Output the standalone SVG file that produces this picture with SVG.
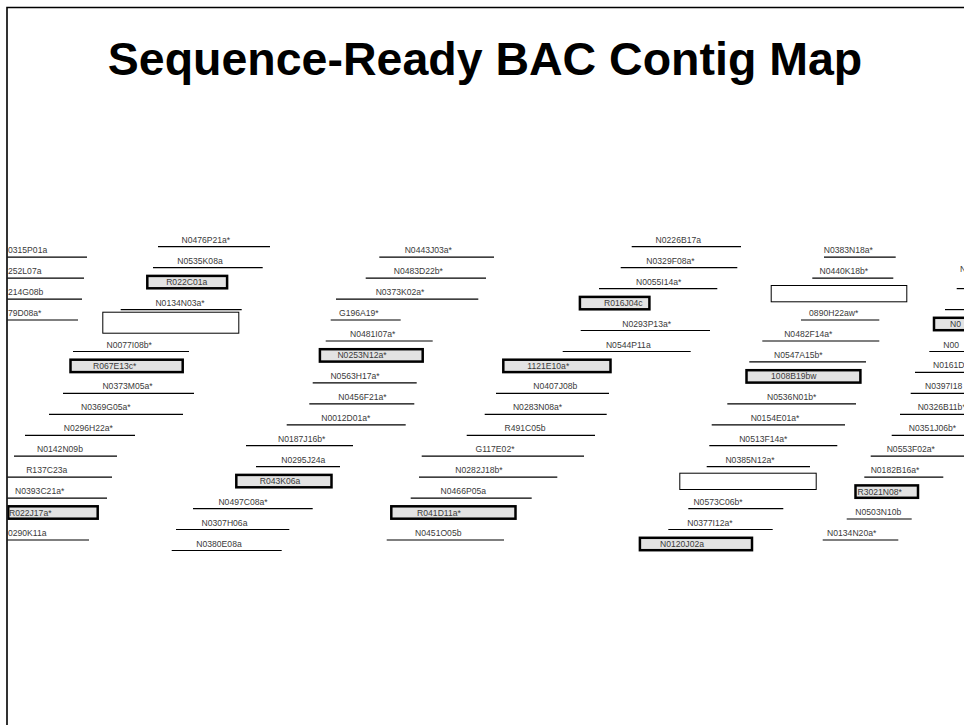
<svg xmlns="http://www.w3.org/2000/svg" width="964" height="725" viewBox="0 0 964 725">
  <defs>
    <clipPath id="frameClip">
      <rect x="7.5" y="8" width="960" height="720"/>
    </clipPath>
  </defs>
  <style>
    .ln { stroke: #000; stroke-width: 1.2; fill: none; }
    .bx { fill: #e3e3e3; stroke: #000; stroke-width: 2.5; }
    .ob { fill: #fff; stroke: #000; stroke-width: 1; }
    .t { font-family: "Liberation Sans", Arial, sans-serif; font-size: 8.6px; fill: #3a3a3a; text-anchor: middle; }
    .s { text-anchor: start; }
    .title { font-family: "Liberation Sans", Arial, sans-serif; font-size: 46.5px; font-weight: bold; fill: #000; text-anchor: middle; }
    .frame { stroke: #000; stroke-width: 1.6; fill: none; }
  </style>
  <rect width="964" height="725" fill="#fff"/>

  <!-- page frame -->
  <path class="frame" d="M7,725 V7.5 H964"/>

  <text class="title" x="485" y="75">Sequence-Ready BAC Contig Map</text>

  <g clip-path="url(#frameClip)">
    <!-- column 1 (cut by the frame) -->
    <g id="c0315P01a"><text class="t s" x="8" y="253.2">0315P01a</text><line class="ln" x1="0" y1="257.2" x2="87" y2="257.2"/></g>
    <g id="c252L07a"><text class="t s" x="8" y="274.1">252L07a</text><line class="ln" x1="0" y1="278.1" x2="84" y2="278.1"/></g>
    <g id="c214G08b"><text class="t s" x="8" y="295.1">214G08b</text><line class="ln" x1="0" y1="299.1" x2="82" y2="299.1"/></g>
    <g id="c79D08a"><text class="t s" x="8" y="316">79D08a*</text><line class="ln" x1="0" y1="320" x2="78" y2="320"/></g>

    <!-- column 2 -->
    <g id="N0476P21a"><text class="t" x="205.8" y="242.7">N0476P21a*</text><line class="ln" x1="158" y1="246.7" x2="270" y2="246.7"/></g>
    <g id="N0535K08a"><text class="t" x="200" y="263.7">N0535K08a</text><line class="ln" x1="153" y1="267.7" x2="262.7" y2="267.7"/></g>
    <g id="R022C01a"><rect class="bx" x="147.3" y="275.9" width="79.8" height="12.4"/><text class="t" x="186.7" y="285.1">R022C01a</text></g>
    <g id="N0134N03a"><text class="t" x="180" y="305.6">N0134N03a*</text><line class="ln" x1="120.7" y1="309.6" x2="241.7" y2="309.6"/></g>
    <g id="gap1"><rect class="ob" x="102.8" y="312.2" width="136" height="21"/></g>
    <g id="N0077I08b"><text class="t" x="129.2" y="347.5">N0077I08b*</text><line class="ln" x1="73" y1="351.5" x2="189" y2="351.5"/></g>
    <g id="R067E13c"><rect class="bx" x="70.5" y="359.7" width="112.2" height="12.4"/><text class="t" x="114.7" y="368.9">R067E13c*</text></g>
    <g id="N0373M05a"><text class="t" x="127.5" y="389.4">N0373M05a*</text><line class="ln" x1="63" y1="393.4" x2="194" y2="393.4"/></g>
    <g id="N0369G05a"><text class="t" x="105.8" y="410.3">N0369G05a*</text><line class="ln" x1="49" y1="414.3" x2="183" y2="414.3"/></g>
    <g id="N0296H22a"><text class="t" x="88.3" y="431.3">N0296H22a*</text><line class="ln" x1="25" y1="435.3" x2="135" y2="435.3"/></g>
    <g id="N0142N09b"><text class="t" x="60" y="452.2">N0142N09b</text><line class="ln" x1="14" y1="456.2" x2="117" y2="456.2"/></g>
    <g id="R137C23a"><text class="t" x="46.7" y="473.2">R137C23a</text><line class="ln" x1="0" y1="477.2" x2="112" y2="477.2"/></g>
    <g id="N0393C21a"><text class="t" x="39.7" y="494.1">N0393C21a*</text><line class="ln" x1="0" y1="498.1" x2="107" y2="498.1"/></g>
    <g id="R022J17a"><rect class="bx" x="8.2" y="506.3" width="89.5" height="12.4"/><text class="t s" x="9" y="515.5">R022J17a*</text></g>
    <g id="c0290K11a"><text class="t s" x="8" y="536">0290K11a</text><line class="ln" x1="0" y1="540" x2="89" y2="540"/></g>

    <!-- column 3 -->
    <g id="N0443J03a"><text class="t" x="428.3" y="253.2">N0443J03a*</text><line class="ln" x1="379.3" y1="257.2" x2="494" y2="257.2"/></g>
    <g id="N0483D22b"><text class="t" x="418.3" y="274.1">N0483D22b*</text><line class="ln" x1="365.7" y1="278.1" x2="486" y2="278.1"/></g>
    <g id="N0373K02a"><text class="t" x="400" y="295.1">N0373K02a*</text><line class="ln" x1="336" y1="299.1" x2="478.3" y2="299.1"/></g>
    <g id="G196A19"><text class="t" x="358.8" y="316">G196A19*</text><line class="ln" x1="330.7" y1="320" x2="400.7" y2="320"/></g>
    <g id="N0481I07a"><text class="t" x="372.7" y="337">N0481I07a*</text><line class="ln" x1="325.7" y1="341" x2="432.7" y2="341"/></g>
    <g id="N0253N12a"><rect class="bx" x="319.9" y="349.2" width="102.8" height="12.4"/><text class="t" x="362" y="358.4">N0253N12a*</text></g>
    <g id="N0563H17a"><text class="t" x="355" y="378.9">N0563H17a*</text><line class="ln" x1="312.7" y1="382.9" x2="416.7" y2="382.9"/></g>
    <g id="N0456F21a"><text class="t" x="362.5" y="399.8">N0456F21a*</text><line class="ln" x1="309.3" y1="403.8" x2="414.3" y2="403.8"/></g>
    <g id="N0012D01a"><text class="t" x="345.8" y="420.8">N0012D01a*</text><line class="ln" x1="286.7" y1="424.8" x2="405.7" y2="424.8"/></g>
    <g id="N0187J16b"><text class="t" x="301.7" y="441.7">N0187J16b*</text><line class="ln" x1="246" y1="445.7" x2="353" y2="445.7"/></g>
    <g id="N0295J24a"><text class="t" x="303.3" y="462.7">N0295J24a</text><line class="ln" x1="256" y1="466.7" x2="340" y2="466.7"/></g>
    <g id="R043K06a"><rect class="bx" x="236.3" y="474.9" width="95.2" height="12.4"/><text class="t" x="280" y="484.1">R043K06a</text></g>
    <g id="N0497C08a"><text class="t" x="243" y="504.6">N0497C08a*</text><line class="ln" x1="193" y1="508.6" x2="312.7" y2="508.6"/></g>
    <g id="N0307H06a"><text class="t" x="224.5" y="525.5">N0307H06a</text><line class="ln" x1="176" y1="529.5" x2="289.3" y2="529.5"/></g>
    <g id="N0380E08a"><text class="t" x="219" y="546.5">N0380E08a</text><line class="ln" x1="171.7" y1="550.5" x2="281.7" y2="550.5"/></g>

    <!-- column 4 -->
    <g id="N0226B17a"><text class="t" x="678.3" y="242.7">N0226B17a</text><line class="ln" x1="631.7" y1="246.7" x2="741" y2="246.7"/></g>
    <g id="N0329F08a"><text class="t" x="670.5" y="263.7">N0329F08a*</text><line class="ln" x1="620.7" y1="267.7" x2="737.3" y2="267.7"/></g>
    <g id="N0055I14a"><text class="t" x="658.7" y="284.6">N0055I14a*</text><line class="ln" x1="599" y1="288.6" x2="717.3" y2="288.6"/></g>
    <g id="R016J04c"><rect class="bx" x="579.9" y="296.9" width="69.5" height="12.4"/><text class="t" x="623.3" y="306.1">R016J04c</text></g>
    <g id="N0293P13a"><text class="t" x="646.7" y="326.5">N0293P13a*</text><line class="ln" x1="580.7" y1="330.5" x2="710" y2="330.5"/></g>
    <g id="N0544P11a"><text class="t" x="628.3" y="347.5">N0544P11a</text><line class="ln" x1="562.7" y1="351.5" x2="690.7" y2="351.5"/></g>
    <g id="c1121E10a"><rect class="bx" x="503.3" y="359.7" width="107.2" height="12.4"/><text class="t" x="548.3" y="368.9">1121E10a*</text></g>
    <g id="N0407J08b"><text class="t" x="555.3" y="389.4">N0407J08b</text><line class="ln" x1="496" y1="393.4" x2="609" y2="393.4"/></g>
    <g id="N0283N08a"><text class="t" x="537.5" y="410.3">N0283N08a*</text><line class="ln" x1="484.7" y1="414.3" x2="606.7" y2="414.3"/></g>
    <g id="R491C05b"><text class="t" x="525" y="431.3">R491C05b</text><line class="ln" x1="466.7" y1="435.3" x2="595" y2="435.3"/></g>
    <g id="G117E02"><text class="t" x="495" y="452.2">G117E02*</text><line class="ln" x1="421.7" y1="456.2" x2="584" y2="456.2"/></g>
    <g id="N0282J18b"><text class="t" x="479" y="473.2">N0282J18b*</text><line class="ln" x1="419" y1="477.2" x2="557.3" y2="477.2"/></g>
    <g id="N0466P05a"><text class="t" x="463.3" y="494.1">N0466P05a</text><line class="ln" x1="410.7" y1="498.1" x2="531.7" y2="498.1"/></g>
    <g id="R041D11a"><rect class="bx" x="391.3" y="506.3" width="124.2" height="12.4"/><text class="t" x="439" y="515.5">R041D11a*</text></g>
    <g id="N0451O05b"><text class="t" x="438.3" y="536">N0451O05b</text><line class="ln" x1="386.7" y1="540" x2="504" y2="540"/></g>

    <!-- column 5 -->
    <g id="N0383N18a"><text class="t" x="848.3" y="253.2">N0383N18a*</text><line class="ln" x1="824" y1="257.2" x2="895.7" y2="257.2"/></g>
    <g id="N0440K18b"><text class="t" x="843.8" y="274.1">N0440K18b*</text><line class="ln" x1="812.3" y1="278.1" x2="893.3" y2="278.1"/></g>
    <g id="gap2"><rect class="ob" x="771.2" y="285.5" width="135.6" height="16.3"/></g>
    <g id="c0890H22aw"><text class="t" x="833.7" y="316">0890H22aw*</text><line class="ln" x1="801" y1="320" x2="879.3" y2="320"/></g>
    <g id="N0482F14a"><text class="t" x="808.3" y="337">N0482F14a*</text><line class="ln" x1="762.3" y1="341" x2="879.3" y2="341"/></g>
    <g id="N0547A15b"><text class="t" x="798.3" y="357.9">N0547A15b*</text><line class="ln" x1="749.3" y1="361.9" x2="866" y2="361.9"/></g>
    <g id="c1008B19bw"><rect class="bx" x="746.5" y="370.2" width="113.9" height="12.4"/><text class="t" x="793.8" y="379.4">1008B19bw</text></g>
    <g id="N0536N01b"><text class="t" x="791.7" y="399.8">N0536N01b*</text><line class="ln" x1="727.3" y1="403.8" x2="856" y2="403.8"/></g>
    <g id="N0154E01a"><text class="t" x="775" y="420.8">N0154E01a*</text><line class="ln" x1="711.7" y1="424.8" x2="845" y2="424.8"/></g>
    <g id="N0513F14a"><text class="t" x="763.3" y="441.7">N0513F14a*</text><line class="ln" x1="709.3" y1="445.7" x2="837.3" y2="445.7"/></g>
    <g id="N0385N12a"><text class="t" x="750" y="462.7">N0385N12a*</text><line class="ln" x1="706.7" y1="466.7" x2="810" y2="466.7"/></g>
    <g id="gap3"><rect class="ob" x="679.8" y="473.2" width="136.4" height="16.3"/></g>
    <g id="N0573C06b"><text class="t" x="718" y="504.6">N0573C06b*</text><line class="ln" x1="688.3" y1="508.6" x2="783.3" y2="508.6"/></g>
    <g id="N0377I12a"><text class="t" x="710" y="525.5">N0377I12a*</text><line class="ln" x1="668.3" y1="529.5" x2="772.7" y2="529.5"/></g>
    <g id="N0120J02a"><rect class="bx" x="639.9" y="537.8" width="112.1" height="12.4"/><text class="t" x="682" y="547">N0120J02a</text></g>

    <!-- column 6 (cut by the right edge) -->
    <g id="r3"><text class="t s" x="960" y="272">N</text></g>
    <g id="r4"><line class="ln" x1="956.7" y1="288.6" x2="970" y2="288.6"/></g>
    <g id="r6"><line class="ln" x1="945" y1="309.6" x2="970" y2="309.6"/></g>
    <g id="r8"><rect class="bx" x="934" y="317.8" width="40" height="12.4"/><text class="t s" x="950" y="327">N0</text></g>
    <g id="r10"><text class="t s" x="943.3" y="347.5">N00</text><line class="ln" x1="929.3" y1="351.5" x2="970" y2="351.5"/></g>
    <g id="r12"><text class="t s" x="933" y="368.4">N0161D2</text><line class="ln" x1="915" y1="372.4" x2="970" y2="372.4"/></g>
    <g id="r14"><text class="t s" x="925" y="389.4">N0397I18</text><line class="ln" x1="910.7" y1="393.4" x2="970" y2="393.4"/></g>
    <g id="N0326B11b"><text class="t" x="941.7" y="410.3">N0326B11b*</text><line class="ln" x1="900" y1="414.3" x2="970" y2="414.3"/></g>
    <g id="N0351J06b"><text class="t" x="932.5" y="431.3">N0351J06b*</text><line class="ln" x1="891.7" y1="435.3" x2="970" y2="435.3"/></g>
    <g id="N0553F02a"><text class="t" x="910.8" y="452.2">N0553F02a*</text><line class="ln" x1="870.7" y1="456.2" x2="970" y2="456.2"/></g>
    <g id="N0182B16a"><text class="t" x="895" y="473.2">N0182B16a*</text><line class="ln" x1="864.3" y1="477.2" x2="943.3" y2="477.2"/></g>
    <g id="R3021N08"><rect class="bx" x="855.5" y="485.4" width="62.5" height="12.4"/><text class="t s" x="857.5" y="494.6">R3021N08*</text></g>
    <g id="N0503N10b"><text class="t" x="878.3" y="515">N0503N10b</text><line class="ln" x1="846.7" y1="519" x2="911.7" y2="519"/></g>
    <g id="N0134N20a"><text class="t" x="851.7" y="536">N0134N20a*</text><line class="ln" x1="822.7" y1="540" x2="898.3" y2="540"/></g>
  </g>

  <!-- clone links: none drawn -->
  <g id="connectors"/>
</svg>
